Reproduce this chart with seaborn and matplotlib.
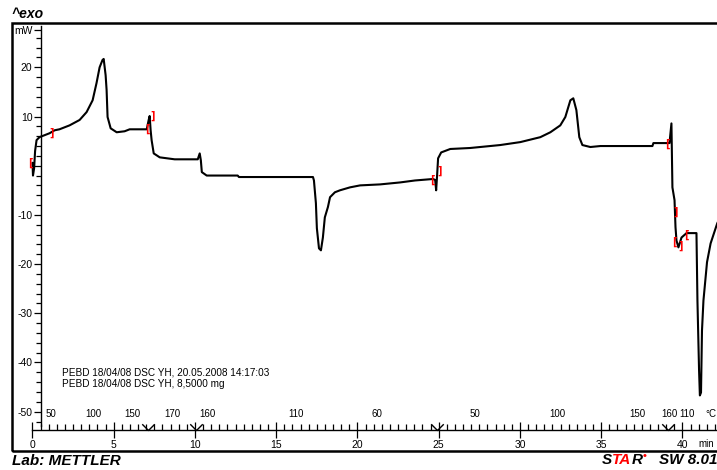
import numpy as np
import pandas as pd
import matplotlib
matplotlib.use("Agg")
import matplotlib.pyplot as plt
from matplotlib.patches import Rectangle
import seaborn as sns

# DSC heat flow curve (time in min, heat flow in mW)
time_min = [0.00, 0.03, 0.10, 0.16, 0.25, 0.43, 0.74, 1.05, 1.36, 1.66, 2.28, 2.90,
            3.33, 3.70, 3.94, 4.13, 4.31, 4.38, 4.50, 4.56, 4.62, 4.81, 5.18, 5.67,
            5.98, 7.03, 7.15, 7.21, 7.27, 7.33, 7.46, 7.83, 8.75, 10.17, 10.29, 10.36,
            10.42, 10.72, 12.63, 12.70, 17.26, 17.32, 17.44, 17.50, 17.63, 17.75, 17.87,
            17.99, 18.18, 18.31, 18.61, 18.92, 19.54, 20.16, 21.39, 22.62, 23.54, 24.65,
            24.78, 24.84, 24.90, 24.96, 25.15, 25.71, 26.93, 28.78, 30.02, 31.25, 31.87,
            32.48, 32.79, 33.10, 33.28, 33.47, 33.65, 33.84, 34.33, 34.95, 38.15, 38.21,
            39.20, 39.32, 39.38, 39.51, 39.57, 39.63, 39.75, 39.94, 40.25, 40.86, 40.92,
            41.02, 41.07, 41.14, 41.20, 41.29, 41.51, 41.73, 42.14, 42.47]
heat_flow_mw = [0.6, -2.0, -0.5, 3.0, 5.2, 5.8, 6.2, 6.6, 7.2, 7.4, 8.2, 9.3,
                10.9, 13.3, 16.8, 20.0, 21.5, 21.7, 18.4, 15.4, 9.9, 7.6, 6.8, 7.0,
                7.4, 7.4, 9.3, 10.1, 7.2, 5.2, 2.5, 1.7, 1.3, 1.3, 2.5, 1.1,
                -1.3, -2.0, -2.0, -2.3, -2.3, -3.0, -7.6, -12.7, -16.8, -17.2, -14.6,
                -10.5, -8.4, -6.4, -5.4, -5.0, -4.4, -4.0, -3.8, -3.4, -3.0, -2.7,
                -2.9, -5.0, -1.9, 1.5, 2.7, 3.4, 3.6, 4.2, 4.8, 5.8, 6.8,
                8.2, 9.9, 13.3, 13.7, 11.3, 5.8, 4.2, 3.8, 4.0, 4.0, 4.6,
                4.6, 8.6, -4.4, -7.0, -12.5, -15.2, -16.6, -14.6, -13.7, -13.7, -27.4,
                -41.6, -46.7, -46.1, -33.5, -27.4, -19.6, -15.8, -11.7, -9.5]

# red evaluation limits
bracket_time = [-0.15, 1.17, 7.08, 7.38, 24.58, 25.08, 39.08, 39.57, 39.48, 39.90, 40.22]
bracket_mw = [0.55, 6.65, 7.46, 10.2, -2.8, -0.98, 4.5, -9.3, -15.4, -16.2, -14.0]
bracket_char = ["[", "]", "[", "]", "[", "]", "[", "]", "[", "]", "["]

# temperature labels along the time axis (°C)
temp_labels = ["50", "100", "150", "170", "160", "110", "60", "50", "100", "150", "160", "110"]
temp_label_time = [1.14, 3.72, 6.12, 8.58, 10.74, 16.22, 21.2, 27.23, 32.28, 37.2, 39.22, 40.28]

# segment boundaries of the temperature program (min)
segment_time = [7.1, 10.06, 24.9, 39.1]

y_major = [-50, -40, -30, -20, -10, 0, 10, 20, 27.6]
y_major_labels = ["-50", "-40", "-30", "-20", "-10", "", "10", "20", "mW"]
x_major = [0, 5, 10, 15, 20, 25, 30, 35, 40]

sns.set_style("white")
plt.rcParams["font.family"] = ["Liberation Sans", "DejaVu Sans"]
plt.rcParams["text.color"] = "black"

W, H = 717, 470
fig = plt.figure(figsize=(W / 100, H / 100), dpi=100)
ax = fig.add_axes([11.7 / W, 1 - 450.5 / H, 1.05 - 11.7 / W, (450.5 - 22.7) / H])
ax.set_xlim(-1.28, 44.33)
ax.set_ylim(-57.89, 29.07)

df = pd.DataFrame({"time": time_min, "hf": heat_flow_mw})
sns.lineplot(data=df, x="time", y="hf", color="black", lw=1.5, estimator=None,
             sort=False, ax=ax, legend=False)
ax.set_xlabel("")
ax.set_ylabel("")

for t, v, c in zip(bracket_time, bracket_mw, bracket_char):
    ax.text(t, v, c, color="red", fontsize=7, fontweight="bold", ha="center", va="center",
            family="DejaVu Sans")

axis_y = -53.7
for lab, t in zip(temp_labels, temp_label_time):
    ax.text(t, -50.5, lab, fontsize=7, ha="center", va="center", color="black")
ax.plot(segment_time, [axis_y] * len(segment_time), ls="none",
        marker=[(-1, 1), (0, 0), (1, 1)], ms=9, mfc="none", mec="black", mew=1.0)

ax.text(41.75, -50.5, "°C", fontsize=7, ha="center", va="center", color="black")
ax.text(41.45, -56.6, "min", fontsize=7, ha="center", va="center", color="black")

ax.text(1.8, -42.1, "PEBD 18/04/08 DSC YH, 20.05.2008 14:17:03", fontsize=7.2,
        va="center", color="black")
ax.text(1.8, -44.4, "PEBD 18/04/08 DSC YH, 8,5000 mg", fontsize=7.2, va="center",
        color="black")

# axes: frame plus inner axis lines
for s in ["top", "right"]:
    ax.spines[s].set_visible(False)
ax.spines["left"].set_position(("data", 0.55))
ax.spines["left"].set_bounds(-53.0, 28.3)
ax.spines["bottom"].set_position(("data", axis_y))
ax.spines["bottom"].set_bounds(0, 46)
for s in ["left", "bottom"]:
    ax.spines[s].set_linewidth(1.0)
    ax.spines[s].set_color("black")
ax.add_patch(Rectangle((0, 0), 1, 1, transform=ax.transAxes, fill=False, lw=1.8,
                       ec="black", clip_on=False))

ax.set_yticks(y_major, labels=y_major_labels)
ax.set_yticks(np.arange(-52, 27, 2), minor=True)
ax.set_xticks(x_major, labels=[str(v) for v in x_major])
ax.set_xticks(np.arange(0, 44, 0.5), minor=True)
ax.tick_params(which="both", left=True, bottom=True, top=False, right=False,
               color="black", labelcolor="black")
ax.tick_params(axis="y", which="major", direction="out", length=5, width=0.9, pad=1.5,
               labelsize=7.5)
ax.tick_params(axis="y", which="minor", direction="out", length=3.5, width=0.9)
ax.tick_params(axis="x", which="major", direction="inout", length=11, width=0.9, pad=2,
               labelsize=7.5)
ax.tick_params(axis="x", which="minor", direction="in", length=4.5, width=0.9)
ax.grid(False)

bold = dict(fontsize=11, fontweight="bold", style="italic", color="black")
fig.text(11.7 / W, 1 - 14.5 / H, "^exo", va="center", ha="left", fontsize=10,
         fontweight="bold", style="italic", color="black")
fig.text(12 / W, 1 - 461 / H, "Lab: METTLER", va="center", ha="left", **bold)

t_s = fig.text(602 / W, 1 - 467 / H, "S", va="bottom", ha="left", **bold)
t_ta = ax.annotate("TA", xy=(1, 0), xycoords=t_s, va="bottom", ha="left",
                   **{**bold, "color": "red"})
t_r = ax.annotate("R", xy=(1, 0), xycoords=t_ta, va="bottom", ha="left", **bold)
ax.annotate("•", xy=(1, 0.45), xycoords=t_r, va="bottom", ha="left", color="red",
            fontsize=8, fontweight="bold")
ax.annotate("SW 8.01", xy=(1, 0), xycoords=t_r, xytext=(12, 0), textcoords="offset points",
            va="bottom", ha="left", **bold)

fig.savefig("out.png", dpi=100)
